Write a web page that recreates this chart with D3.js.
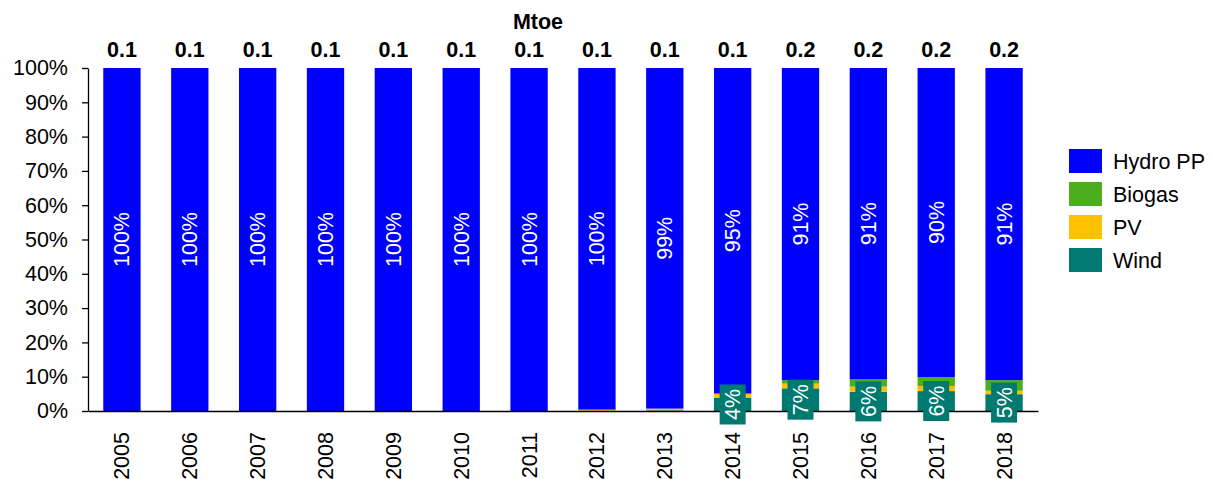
<!DOCTYPE html>
<html><head><meta charset="utf-8">
<script src="https://cdn.jsdelivr.net/npm/d3@7"></script>
<style>body{margin:0;background:#fff}text{font-family:"Liberation Sans",Arial,sans-serif}</style>
</head><body><svg id="c" width="1210" height="479"></svg>
<script>
const years = ["2005","2006","2007","2008","2009","2010","2011","2012","2013","2014","2015","2016","2017","2018"];
const wind   = [0,0,0,0,0,0,0,0,0.2,3.8,6.6,5.6,5.8,4.9];
const pv     = [0,0,0,0,0,0,0,0.4,0.5,1.2,1.4,1.5,1.5,1.0];
const biogas = [0,0,0,0,0,0,0,0,0,0.1,1.0,2.1,2.6,3.1];
const hydro  = [100,100,100,100,100,100,100,99.6,99.3,94.9,91.0,90.8,90.1,91.0];
const hydroLabels = ["100%","100%","100%","100%","100%","100%","100%","100%","99%","95%","91%","91%","90%","91%"];
const windLabels  = ["","","","","","","","","","4%","7%","6%","6%","5%"];
const totals = ["0.1","0.1","0.1","0.1","0.1","0.1","0.1","0.1","0.1","0.1","0.2","0.2","0.2","0.2"];
const yTicks = [0,10,20,30,40,50,60,70,80,90,100];
const seriesNames = ["Wind","PV","Biogas","Hydro PP"];
const seriesData = [wind, pv, biogas, hydro];
const colors = {"Hydro PP":"#0000FF","Biogas":"#4BAE1E","PV":"#FFC000","Wind":"#007A70"};
const legendOrder = ["Hydro PP","Biogas","PV","Wind"];

const svg = d3.select("#c");
const x = d3.scaleBand().domain(years).range([88,1038]).paddingInner(0.45).paddingOuter(0.225);
const y = d3.scaleLinear().domain([0,100]).range([411,68]);
const FS = 21.5;

// bars
const rows = years.map((yr,i)=>{const o={year:yr}; seriesNames.forEach((s,k)=>o[s]=seriesData[k][i]); return o;});
const stack = d3.stack().keys(seriesNames)(rows);
svg.append("g").selectAll("g").data(stack).join("g")
  .attr("fill", d=>colors[d.key])
  .selectAll("rect").data(d=>d).join("rect")
  .attr("x", d=>x(d.data.year)).attr("width", x.bandwidth())
  .attr("y", d=>y(d[1])).attr("height", d=>Math.max(0, y(d[0])-y(d[1])));

// y axis
const ya = svg.append("g").attr("transform","translate(88,0)")
  .call(d3.axisLeft(y).tickValues(yTicks).tickFormat(d=>d+"%").tickSize(6).tickSizeOuter(0));
ya.select(".domain").attr("stroke","#000").attr("stroke-width",1.3);
ya.selectAll(".tick line").attr("stroke","#000").attr("stroke-width",1.3);
ya.selectAll(".tick text").attr("font-size",FS).attr("fill","#000").attr("x",-20)
  .attr("font-family","Liberation Sans, Arial, sans-serif");

// x axis
const xa = svg.append("g").attr("transform","translate(0,411)")
  .call(d3.axisBottom(x).tickSize(0).tickSizeOuter(0));
xa.select(".domain").attr("stroke","#000").attr("stroke-width",1.5);
xa.selectAll(".tick text").attr("font-size",FS).attr("fill","#000")
  .attr("font-family","Liberation Sans, Arial, sans-serif")
  .attr("transform","rotate(-90)").attr("text-anchor","end").attr("dy","0.35em").attr("x",-21).attr("y",0);

// hydro labels
const hs = stack[3];
svg.append("g").selectAll("text").data(hs).join("text")
  .attr("transform", (d)=>`translate(${x(d.data.year)+x.bandwidth()/2},${(y(d[0])+y(d[1]))/2}) rotate(-90)`)
  .attr("text-anchor","middle").attr("dy","0.35em").attr("fill","#fff").attr("font-size",FS)
  .text((d,i)=>hydroLabels[i]);

// wind labels with box
const ws = stack[0];
const wl = svg.append("g").selectAll("g").data(ws.filter((d,i)=>windLabels[i]!=="")).join("g")
  .attr("transform", d=>`translate(${x(d.data.year)+x.bandwidth()/2},${(y(d[0])+y(d[1]))/2})`);
wl.append("rect").attr("x",-13).attr("width",26).attr("y",-20).attr("height",40).attr("fill",colors["Wind"]);
wl.append("text").attr("transform","rotate(-90)").attr("text-anchor","middle").attr("dy","0.35em")
  .attr("fill","#fff").attr("font-size",FS).text(d=>windLabels[years.indexOf(d.data.year)]);

// totals
svg.append("g").selectAll("text").data(years).join("text")
  .attr("x", d=>x(d)+x.bandwidth()/2).attr("y",57).attr("text-anchor","middle")
  .attr("font-weight","bold").attr("font-size",FS).attr("fill","#000")
  .text((d,i)=>totals[i]);
svg.append("text").attr("x",538).attr("y",29).attr("text-anchor","middle")
  .attr("font-weight","bold").attr("font-size",FS).attr("fill","#000").text("Mtoe");

// legend
const lg = svg.append("g").selectAll("g").data(legendOrder).join("g")
  .attr("transform",(d,i)=>`translate(1069,${149+i*33})`);
lg.append("rect").attr("width",33).attr("height",24).attr("fill",d=>colors[d]);
lg.append("text").attr("x",44).attr("y",12).attr("dy","0.35em").attr("font-size",FS).attr("fill","#000").text(d=>d);
</script></body></html>
